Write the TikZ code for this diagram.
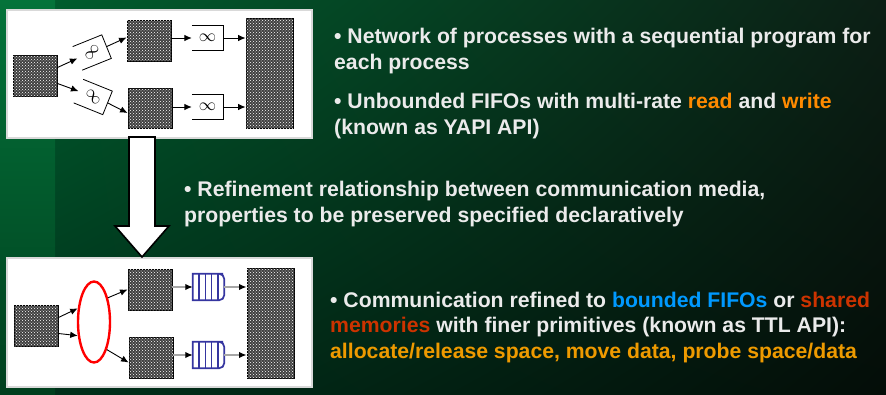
\documentclass[tikz,border=0pt]{standalone}
\usepackage{fontspec}
\setmainfont{Liberation Sans}
\usetikzlibrary{arrows.meta,positioning,shapes.geometric,patterns,calc,shadings}
\definecolor{StripTop}{HTML}{04733A}
\definecolor{StripBot}{HTML}{003F1E}
\definecolor{BgUL}{HTML}{005C2D}
\definecolor{BgUR}{HTML}{0C1F15}
\definecolor{BgLL}{HTML}{00301A}
\definecolor{BgLR}{HTML}{040D08}
\definecolor{Txt}{HTML}{EBEBEB}
\definecolor{Rw}{HTML}{FF8A00}
\definecolor{Bnd}{HTML}{0099FF}
\definecolor{Shr}{HTML}{CC3300}
\definecolor{Prim}{HTML}{EE9A00}
\definecolor{Fifo}{HTML}{3535A0}
\tikzset{
  proc/.style={
    draw=black,line width=0.9pt,fill=gray!50!black,inner sep=0pt,
    postaction={pattern=crosshatch dots,pattern color=white}
  },
  inf/.style={minimum width=31pt,minimum height=25pt,inner sep=0pt,font=\fontsize{16}{16}\selectfont},
  queue/.style={minimum width=31pt,minimum height=26pt,inner sep=0pt},
  fifo/.style={draw=Fifo,line width=1.7pt},
  arrow/.style={-{Latex[length=7.5pt,width=6.5pt]},line width=0.9pt,draw=black},
  garrow/.style={-{Latex[length=7.5pt,width=6.5pt,color=black]},line width=1.3pt,draw=gray!70},
  panel/.style={anchor=north west,fill=white,draw=gray!30,line width=1.5pt,minimum width=305pt},
  bullet/.style={
    anchor=north west,inner sep=0pt,align=left,text=Txt,
    font=\bfseries\fontsize{21.2}{25.5}\selectfont
  }
}
\begin{document}
\begin{tikzpicture}[x=1pt,y=-1pt]
  % backdrop
  \useasboundingbox (0,0) rectangle (886,394);
  \shade[upper left=BgUL,upper right=BgUR,lower left=BgLL,lower right=BgLR] (55,0) rectangle (886,394);
  \shade[top color=StripTop,bottom color=StripBot] (0,0) rectangle (55,394);

  % process network with unbounded fifos
  \node[panel,minimum height=128pt] (spec) at (6,9) {};
  \node[proc,minimum width=44pt,minimum height=41pt] (pa) at (35,75.5) {};
  \node[proc,minimum width=44pt,minimum height=41pt] (m1) at (149,40.5) {};
  \node[proc,minimum width=44pt,minimum height=40pt] (m2) at (150,108) {};
  \node[proc,minimum width=47pt,minimum height=110pt] (ra) at (269.5,73) {};
  \node[inf,rotate=22] (u1) at (92,52.5) {\rotatebox{30}{$\infty$}};
  \node[inf,rotate=-22] (u2) at (93,97) {\rotatebox{-30}{$\infty$}};
  \node[inf] (i1) at (207.5,38) {$\infty$};
  \node[inf] (i2) at (207.5,107) {$\infty$};
  \foreach \b in {u1,u2,i1,i2}
    \draw[line width=0.8pt] (\b.north west) -- (\b.north east) -- (\b.south east) -- (\b.south west);
  \draw[arrow] ([yshift=8pt]pa.east) -- (u1.west);
  \draw[arrow] ([yshift=-8pt]pa.east) -- (u2.west);
  \draw[arrow] (u1.east) -- ([yshift=3pt]m1.west);
  \draw[arrow] (u2.east) -- ([yshift=-5pt]m2.west);
  \draw[arrow] (m1.east |- i1) -- (i1.west);
  \draw[arrow] (i1.east) -- (i1.east -| ra.west);
  \draw[arrow] (m2.east |- i2) -- (i2.west);
  \draw[arrow] (i2.east) -- (i2.east -| ra.west);

  % refined network with bounded fifos / shared memory
  \node[panel,minimum height=129pt] (impl) at (6,257) {};
  \node[proc,minimum width=44pt,minimum height=41pt] (pb) at (36,325.5) {};
  \node[ellipse,draw=red,line width=2.4pt,minimum width=32pt,minimum height=81pt,inner sep=0pt] (mem) at (94,322) {};
  \node[proc,minimum width=44pt,minimum height=41pt] (n1) at (150,289.5) {};
  \node[proc,minimum width=44pt,minimum height=41pt] (n2) at (151,357.5) {};
  \node[proc,minimum width=47pt,minimum height=110pt] (rb) at (270.5,323) {};
  \node[queue] (q1) at (208.5,287) {};
  \node[queue] (q2) at (208.5,355) {};
  \foreach \q in {q1,q2} {
    \draw[fifo] ([xshift=-6pt]\q.north east) -- (\q.north west) -- (\q.south west) -- ([xshift=-6pt]\q.south east)
      [rounded corners=5pt] -- (\q.south east) -- (\q.north east) -- cycle;
    \foreach \k in {1,...,4}
      \draw[fifo] ($(\q.north west)!\k/5!(\q.north east)$) -- ($(\q.south west)!\k/5!(\q.south east)$);
  }
  \draw[arrow] ([yshift=8pt]pb.east) -- (mem.140);
  \draw[arrow] ([yshift=-8pt]pb.east) -- (mem.220);
  \draw[arrow] (mem.60) -- (n1.west);
  \draw[arrow] (mem.295) -- ([yshift=-5pt]n2.west);
  \draw[garrow] (n1.east |- q1) -- (q1.west);
  \draw[garrow] (q1.east) -- (q1.east -| rb.west);
  \draw[garrow] (n2.east |- q2) -- (q2.west);
  \draw[garrow] (q2.east) -- (q2.east -| rb.west);

  % refinement arrow
  \draw[fill=white,line width=1.6pt,line join=miter]
    (129,137) -- (155,137) -- (155,226) -- (169,226) -- (142,257) -- (115,226) -- (129,226) -- cycle;

  % bullets
  \node[bullet] (txtnet) at (334,28) {• Network of processes with a sequential program for\\each process};
  \node[bullet] (txtyapi) at (334,93) {• Unbounded FIFOs with multi-rate \textcolor{Rw}{read} and \textcolor{Rw}{write}\\(known as YAPI API)};
  \node[bullet] (txtref) at (184,181) {• Refinement relationship between communication media,\\properties to be preserved specified declaratively};
  \node[bullet] (txtttl) at (330,291.5) {• Communication refined to \textcolor{Bnd}{bounded FIFOs} or \textcolor{Shr}{shared}\\\textcolor{Shr}{memories} with finer primitives (known as TTL API):\\\textcolor{Prim}{allocate/release space, move data, probe space/data}};
\end{tikzpicture}
\end{document}
